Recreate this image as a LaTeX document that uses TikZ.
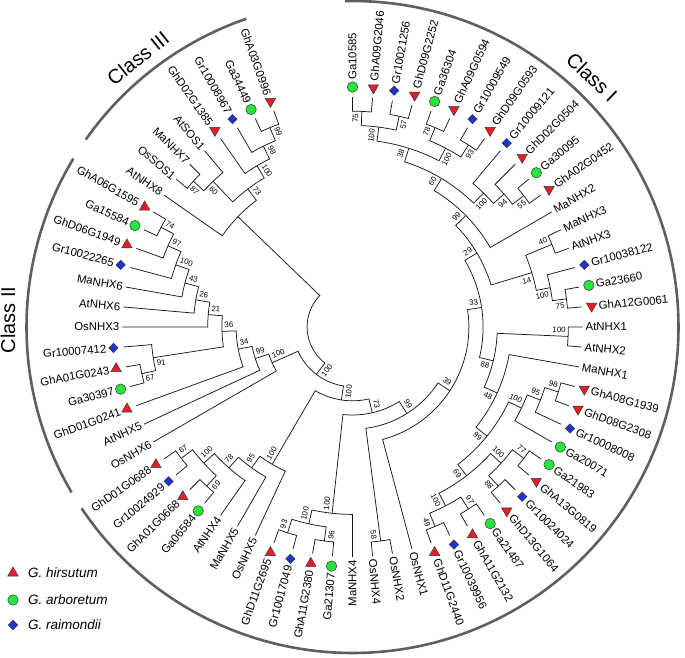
\documentclass[tikz,border=0pt]{standalone}
\usepackage{fontspec}
\setmainfont{Liberation Sans}
\usetikzlibrary{shapes.geometric}
\definecolor{tred}{RGB}{226,30,38}
\definecolor{cgreen}{RGB}{40,228,60}
\definecolor{dblue}{RGB}{28,52,214}
\definecolor{symedge}{RGB}{55,55,55}
\definecolor{classgray}{RGB}{95,95,95}
\newcommand\drawsym[2]{%
  \if#1t%
    \pgfmathtruncatemacro\tdown{or(\lth>-55,\lth<-212)?1:0}%
    \ifnum\tdown=1 \node[symt,rotate=180] (S#2) at (\lth:240) {};\else\node[symt] (S#2) at (\lth:240) {};\fi
  \else\if#1c%
    \node[symc] (S#2) at (\lth:240) {};%
  \else
    \node[symd] (S#2) at (\lth:240) {};%
  \fi\fi}
\newcommand\lf[3]{%
  \pgfmathsetmacro\lth{90-5*(#1-1)}%
  \expandafter\xdef\csname angL#1\endcsname{\lth}%
  \coordinate (L#1) at (\lth:230);%
  \pgfmathtruncatemacro\lrt{\lth>-90?1:0}%
  \ifnum\lrt=1 \let\lrot\lth\def\lanc{west}\else\pgfmathsetmacro\lrot{\lth+180}\def\lanc{east}\fi
  \if#3n\def\lr{233}\else\def\lr{247}\drawsym{#3}{#1}\fi
  \node[leaflab,anchor=\lanc,rotate=\lrot] (T#1) at (\lth:\lr) {#2};}
\newcommand\jn[4]{%
  \pgfmathsetmacro\ja{\csname ang#3\endcsname}%
  \pgfmathsetmacro\jb{\csname ang#4\endcsname}%
  \pgfmathsetmacro\jm{(\ja+\jb)/2}%
  \pgfmathsetmacro\jr{230-14.2*#2}%
  \expandafter\xdef\csname ang#1\endcsname{\jm}%
  \expandafter\xdef\csname rad#1\endcsname{\jr}%
  \coordinate (#1) at (\jm:\jr);%
  \draw[branch] (#3) -- (\ja:\jr) arc[start angle=\ja, end angle=\jb, radius=\jr] -- (#4);}
\newcommand\bs[3]{%
  \pgfmathsetmacro\ba{\csname ang#1\endcsname}%
  \pgfmathsetmacro\br{\csname rad#1\endcsname}%
  \pgfmathsetmacro\bb{\ba+(#3)*6.2/\br*57.2958}%
  \pgfmathsetmacro\bq{\br-2.5}%
  \pgfmathtruncatemacro\brt{\ba>-90?1:0}%
  \ifnum\brt=1 \let\brot\ba\def\banc{east}\else\pgfmathsetmacro\brot{\ba+180}\def\banc{west}\fi
  \node[bootlab,anchor=\banc,rotate=\brot] (B#1) at (\bb:\bq) {#2};}
\begin{document}
\begin{tikzpicture}[x=1pt,y=1pt,
  branch/.style={line width=0.75pt,black!90},
  leaflab/.style={font=\fontsize{11.4}{12}\selectfont,inner sep=0pt},
  bootlab/.style={font=\fontsize{7.8}{8}\selectfont,inner sep=0pt},
  classlab/.style={font=\fontsize{20}{22}\selectfont,inner sep=0pt},
  legtext/.style={font=\fontsize{13.5}{15}\selectfont\itshape,inner sep=0pt,anchor=west},
  classarc/.style={line width=2.6pt,classgray},
  symt/.style={regular polygon,regular polygon sides=3,minimum size=12pt,inner sep=0pt,fill=tred,draw=symedge,line width=0.5pt},
  symc/.style={circle,minimum size=10.5pt,inner sep=0pt,fill=cgreen,draw=symedge,line width=0.5pt},
  symd/.style={diamond,minimum size=9.5pt,inner sep=0pt,fill=dblue,draw=symedge,line width=0.6pt}]
\useasboundingbox (-352.5,-330) rectangle (332.5,327);
% leaves
\lf{1}{Ga10585}{c}\lf{2}{GhA09G2046}{t}\lf{3}{Gr10021256}{d}\lf{4}{GhD09G2252}{t}
\lf{5}{Ga36304}{c}\lf{6}{GhA09G0594}{t}\lf{7}{Gr10009549}{d}\lf{8}{GhD09G0593}{t}
\lf{9}{Gr10009121}{d}\lf{10}{GhD02G0504}{t}\lf{11}{Ga30095}{c}\lf{12}{GhA02G0452}{t}
\lf{13}{MaNHX2}{n}\lf{14}{MaNHX3}{n}\lf{15}{AtNHX3}{n}\lf{16}{Gr10038122}{d}
\lf{17}{Ga23660}{c}\lf{18}{GhA12G0061}{t}\lf{19}{AtNHX1}{n}\lf{20}{AtNHX2}{n}
\lf{21}{MaNHX1}{n}\lf{22}{GhA08G1939}{t}\lf{23}{GhD08G2308}{t}\lf{24}{Gr10008008}{d}
\lf{25}{Ga20071}{c}\lf{26}{Ga21983}{c}\lf{27}{GhA13G0819}{t}\lf{28}{Gr10024024}{d}
\lf{29}{GhD13G1064}{t}\lf{30}{Ga21487}{c}\lf{31}{GhA11G2132}{t}\lf{32}{Gr10039956}{d}
\lf{33}{GhD11G2440}{t}\lf{34}{OsNHX1}{n}\lf{35}{OsNHX2}{n}\lf{36}{OsNHX4}{n}
\lf{37}{MaNHX4}{n}\lf{38}{Ga21307}{c}\lf{39}{GhA11G2380}{t}\lf{40}{Gr10017049}{d}
\lf{41}{GhD11G2695}{t}\lf{42}{OsNHX5}{n}\lf{43}{MaNHX5}{n}\lf{44}{AtNHX4}{n}
\lf{45}{Ga06584}{c}\lf{46}{GhA01G0668}{t}\lf{47}{Gr10024929}{d}\lf{48}{GhD01G0688}{t}
\lf{49}{OsNHX6}{n}\lf{50}{AtNHX5}{n}\lf{51}{GhD01G0241}{t}\lf{52}{Ga30397}{c}
\lf{53}{GhA01G0243}{t}\lf{54}{Gr10007412}{d}\lf{55}{OsNHX3}{n}\lf{56}{AtNHX6}{n}
\lf{57}{MaNHX6}{n}\lf{58}{Gr10022265}{d}\lf{59}{GhD06G1949}{t}\lf{60}{Ga15584}{c}
\lf{61}{GhA06G1595}{t}\lf{62}{AtNHX8}{n}\lf{63}{OsSOS1}{n}\lf{64}{MaNHX7}{n}
\lf{65}{AtSOS1}{n}\lf{66}{GhD02G1385}{t}\lf{67}{Gr10008967}{d}\lf{68}{Ga34449}{c}
\lf{69}{GhA03G0996}{t}
% internal nodes
\jn{a1}{1}{L1}{L2}\jn{a2}{1}{L3}{L4}\jn{a3}{2}{a1}{a2}
\jn{a4}{1}{L5}{L6}\jn{a5}{1}{L7}{L8}\jn{a6}{2}{a4}{a5}\jn{a7}{3}{a3}{a6}
\jn{a8}{1}{L11}{L12}\jn{a9}{2}{L10}{a8}\jn{a10}{3}{L9}{a9}
\jn{a11}{4}{a7}{a10}\jn{a12}{5}{a11}{L13}
\jn{b1}{1}{L14}{L15}\jn{b2}{1}{L17}{L18}\jn{b3}{2}{L16}{b2}\jn{b4}{3}{b1}{b3}
\jn{b5}{6}{a12}{b4}
\jn{c1}{1}{L19}{L20}
\jn{d1}{1}{L22}{L23}\jn{d2}{2}{d1}{L24}\jn{d3}{3}{d2}{L25}
\jn{e1}{1}{L26}{L27}\jn{e2}{1}{L28}{L29}\jn{e3}{2}{e1}{e2}
\jn{f1}{1}{L30}{L31}\jn{f2}{1}{L32}{L33}\jn{f3}{2}{f1}{f2}
\jn{g1}{3}{e3}{f3}\jn{g2}{4}{d3}{g1}\jn{g3}{5}{L21}{g2}\jn{g4}{6}{c1}{g3}
\jn{h1}{7}{b5}{g4}\jn{i39}{8}{h1}{L34}
\jn{j58}{1}{L35}{L36}\jn{k99}{9}{i39}{j58}
\jn{q1}{1}{L38}{L39}\jn{q2}{1}{L40}{L41}\jn{q3}{2}{q1}{q2}\jn{q4}{3}{L37}{q3}
\jn{l73}{10}{k99}{q4}
\jn{p2}{1}{L45}{L46}\jn{p1}{1}{L47}{L48}\jn{p3}{2}{p2}{p1}
\jn{p4}{3}{L44}{p3}\jn{p5}{4}{L43}{p4}\jn{p6}{5}{L42}{p5}
\jn{Z}{11}{l73}{p6}
\jn{m1}{1}{L52}{L53}\jn{m2}{2}{m1}{L54}
\jn{n1}{1}{L60}{L61}\jn{n2}{2}{L59}{n1}\jn{n3}{3}{L58}{n2}\jn{n4}{4}{L57}{n3}
\jn{n5}{5}{L56}{n4}\jn{n6}{6}{L55}{n5}\jn{n7}{7}{m2}{n6}\jn{n8}{8}{L51}{n7}
\jn{n9}{9}{L50}{n8}\jn{n10}{10}{L49}{n9}
\jn{Y}{12}{Z}{n10}
\jn{s1}{1}{L68}{L69}\jn{s2}{2}{L67}{s1}\jn{s3}{3}{L66}{s2}
\jn{s4}{1}{L63}{L64}\jn{s5}{2}{s4}{L65}\jn{s6}{4}{s5}{s3}\jn{s7}{5}{L62}{s6}
\jn{root}{13}{Y}{s7}
% bootstrap values
\bs{a1}{75}{1}\bs{a2}{57}{-1}\bs{a3}{100}{1}\bs{a4}{78}{1}\bs{a5}{93}{-1}\bs{a6}{100}{-1}
\bs{a7}{38}{1}\bs{a8}{55}{-1}\bs{a9}{94}{-1}\bs{a10}{100}{-1}\bs{a11}{60}{1}\bs{a12}{99}{1}
\bs{b1}{40}{1}\bs{b2}{75}{-1}\bs{b3}{100}{-1}\bs{b4}{14}{-1}\bs{b5}{29}{1}
\bs{c1}{100}{1}
\bs{d1}{98}{1}\bs{d2}{95}{1}\bs{d3}{100}{1}
\bs{e1}{77}{1}\bs{e2}{88}{-1}\bs{e3}{100}{1}
\bs{f1}{97}{1}\bs{f2}{49}{-1}\bs{f3}{100}{-1}
\bs{g1}{69}{-1}\bs{g2}{99}{-1}\bs{g3}{48}{-1}\bs{g4}{88}{-1}
\bs{h1}{33}{1}\bs{i39}{39}{1}\bs{j58}{58}{-1}\bs{k99}{99}{1}
\bs{q1}{96}{1}\bs{q2}{93}{-1}\bs{q3}{100}{-1}\bs{q4}{100}{-1}
\bs{l73}{73}{1}
\bs{p1}{67}{-1}\bs{p2}{69}{1}\bs{p3}{100}{-1}\bs{p4}{78}{-1}\bs{p5}{95}{-1}\bs{p6}{100}{-1}
\bs{Z}{100}{1}\bs{Y}{100}{1}
\bs{m1}{67}{1}\bs{m2}{91}{1}
\bs{n1}{74}{-1}\bs{n2}{97}{-1}\bs{n3}{100}{-1}\bs{n4}{43}{-1}\bs{n5}{26}{-1}
\bs{n6}{21}{-1}\bs{n7}{36}{-1}\bs{n8}{34}{-1}\bs{n9}{99}{-1}\bs{n10}{100}{-1}
\bs{s1}{99}{-1}\bs{s2}{98}{-1}\bs{s3}{100}{-1}\bs{s4}{87}{1}\bs{s5}{60}{1}\bs{s6}{73}{-1}
% class arcs and labels
\draw[classarc] (91.3:326) arc[start angle=91.3, end angle=-146.2, radius=326];
\draw[classarc] (148.9:326) arc[start angle=148.9, end angle=210.5, radius=326];
\draw[classarc] (109:326) arc[start angle=109, end angle=144.9, radius=326];
\node[classlab,rotate=-43.8] (cI) at (239.5,250) {Class I};
\node[classlab,rotate=90] (cII) at (-344.5,7) {Class II};
\node[classlab,rotate=38.6] (cIII) at (-214.5,269) {Class III};
% legend
\node[symt] (legA) at (-339.5,-246) {};
\node[legtext] (legAt) at (-324.5,-246) {G. hirsutum};
\node[symc] (legB) at (-339.5,-273) {};
\node[legtext] (legBt) at (-324.5,-273) {G. arboretum};
\node[symd] (legC) at (-339.5,-298) {};
\node[legtext] (legCt) at (-324.5,-298) {G. raimondii};
\end{tikzpicture}
\end{document}
